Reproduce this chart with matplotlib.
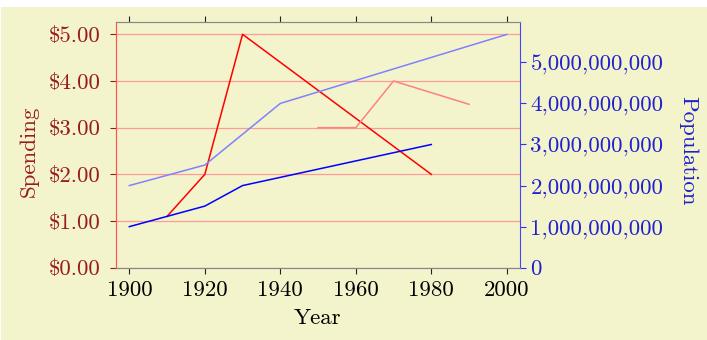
import matplotlib
matplotlib.use('Agg')
import matplotlib.pyplot as plt
from matplotlib.patches import Rectangle

# Spending series (left axis)
spend_years = [1910, 1920, 1930, 1980]
spend_values = [1.10, 2.00, 5.00, 2.00]
spend2_years = [1950, 1960, 1970, 1990]
spend2_values = [3.00, 3.00, 4.00, 3.50]

# Population series (right axis)
pop_years = [1900, 1910, 1920, 1930, 1980]
pop_values = [1.0e9, 1.25e9, 1.5e9, 2.0e9, 3.0e9]
pop2_years = [1900, 1920, 1940, 2000]
pop2_values = [2.0e9, 2.5e9, 4.0e9, 5.68e9]

year_ticks = [1900, 1920, 1940, 1960, 1980, 2000]
spend_ticks = [0, 1, 2, 3, 4, 5]
spend_labels = ['\\$%.2f' % v for v in spend_ticks]
pop_ticks = [0, 1e9, 2e9, 3e9, 4e9, 5e9]
pop_labels = ['{:,}'.format(int(v)) for v in pop_ticks]

plt.rcParams['font.family'] = 'serif'
plt.rcParams['font.serif'] = ['cmr10', 'DejaVu Serif']
plt.rcParams['mathtext.fontset'] = 'cm'
plt.rcParams['axes.formatter.use_mathtext'] = True
plt.rcParams['axes.unicode_minus'] = False

bg = '#f3f4cc'
dark_red = '#991c1c'
blue_txt = '#2020cc'
fs = 16.5

fig = plt.figure(figsize=(7.07, 3.40), dpi=100, facecolor='white')
fig.patches.append(Rectangle((1 / 707, 0), 1, 333 / 340, transform=fig.transFigure,
                             facecolor=bg, edgecolor='none', zorder=-10))

ax = fig.add_axes([0.1637, 0.2126, 0.7355 - 0.1637, 0.9362 - 0.2126])
ax.set_facecolor(bg)
ax2 = ax.twinx()

ax.plot(spend_years, spend_values, color='#ff0000', lw=1.1, zorder=3)
ax.plot(spend2_years, spend2_values, color='#ff8080', lw=1.1, zorder=3)
ax2.plot(pop_years, pop_values, color='#0000ff', lw=1.1)
ax2.plot(pop2_years, pop2_values, color='#8080ff', lw=1.1)

ax.set_xlim(1896.4, 2003.5)
ax.set_ylim(0, 5.27)
ax2.set_ylim(0, 5.99e9)

ax.set_xticks(year_ticks)
ax.set_xticklabels([str(y) for y in year_ticks], fontsize=fs)
ax.set_yticks(spend_ticks)
ax.set_yticklabels(spend_labels, fontsize=fs, color=dark_red)
ax2.set_yticks(pop_ticks)
ax2.set_yticklabels(pop_labels, fontsize=fs, color=blue_txt)

ax.grid(True, axis='y', color='#ff9a9a', lw=0.9)
ax.tick_params(axis='x', direction='out', length=4, width=0.8, color='#222222',
               top=True, pad=5)
ax.tick_params(axis='y', direction='out', length=4, width=0.8, color=dark_red, pad=7)
ax2.tick_params(axis='y', direction='out', length=4, width=0.8, color='#3030ff', pad=3.5)

for a in (ax, ax2):
    a.spines['top'].set_color('#888888')
    a.spines['bottom'].set_color('#888888')
ax2.spines['left'].set_color('#ff5555')
ax2.spines['right'].set_color('#4444ff')
ax.spines['left'].set_color('#ff5555')
ax.spines['right'].set_visible(False)

ax.set_xlabel('Year', fontsize=fs, ha='center', va='center')
ax.xaxis.set_label_coords(0.5004, -0.2045)
ax.set_ylabel('Spending', fontsize=fs, color=dark_red, ha='center', va='center')
ax.yaxis.set_label_coords(-0.2144, 0.472)
ax2.set_ylabel('Population', fontsize=fs, color=blue_txt, rotation=270,
               ha='center', va='center')
ax2.yaxis.set_label_coords(1.4155, 0.476)

fig.savefig('out.png', dpi=100, facecolor='white')
plt.close(fig)
